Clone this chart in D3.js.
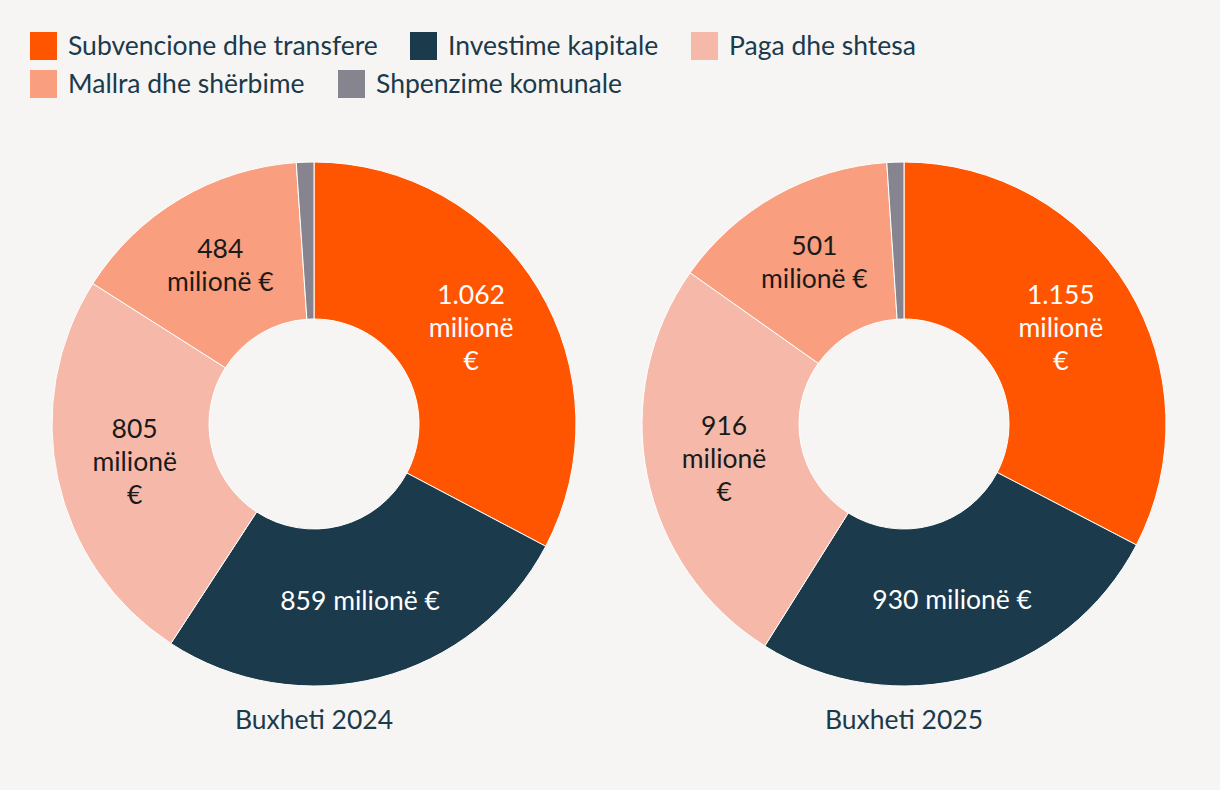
<!DOCTYPE html>
<html>
<head>
<meta charset="utf-8">
<script src="https://cdn.jsdelivr.net/npm/d3@7"></script>
<style>
  html, body { margin: 0; padding: 0; background: #F7F5F3; }
  svg { display: block; font-family: "Lato", "Noto Sans", sans-serif; }
</style>
</head>
<body>
<svg id="chart" width="1220" height="790"></svg>
<script>
const categories = ["Subvencione dhe transfere", "Investime kapitale", "Paga dhe shtesa", "Mallra dhe shërbime", "Shpenzime komunale"];
const colors = ["#FF5500", "#1B3A4B", "#F6B9A9", "#F99E7E", "#86858F"];
const years = ["Buxheti 2024", "Buxheti 2025"];
const values2024 = [1062, 859, 805, 484, 35];
const values2025 = [1155, 930, 916, 501, 37];
const series = [values2024, values2025];
// how many lines each slice label is broken into (number / "milionë" / "€")
const labelLines = [3, 1, 3, 2, 0];
const labelColors = ["#ffffff", "#ffffff", "#1a1a1a", "#1a1a1a", "#1a1a1a"];

const svg = d3.select("#chart");
const textColor = "#1B3A4B";
const fs = 26.5;
const fmt = d3.formatLocale({decimal: ",", thousands: ".", grouping: [3], currency: ["", " €"]}).format(",d");

// Legend
const legendRows = [[0, 1, 2], [3, 4]];
const legendX = [[30, 410, 691], [30, 338]];
const legendY = [32, 70];
legendRows.forEach((row, ri) => {
  row.forEach((ci, k) => {
    const g = svg.append("g").attr("transform", `translate(${legendX[ri][k]},${legendY[ri]})`);
    g.append("rect").attr("width", 27).attr("height", 28).attr("fill", colors[ci]);
    g.append("text").attr("x", 38).attr("y", 23).attr("fill", textColor)
      .attr("font-size", fs).text(categories[ci]);
  });
});

const outerR = 262, innerR = 105;
const centers = [314, 904];
const cy = 424;
const pie = d3.pie().sort(null).value(d => d);
const arc = d3.arc().innerRadius(innerR).outerRadius(outerR);
const lineH = 33;

series.forEach((vals, si) => {
  const g = svg.append("g").attr("transform", `translate(${centers[si]},${cy})`);
  const arcs = pie(vals);
  g.selectAll("path").data(arcs).join("path")
    .attr("d", arc)
    .attr("fill", (d, i) => colors[i])
    .attr("stroke", "#ffffff")
    .attr("stroke-width", 1);

  arcs.forEach((d, i) => {
    const n = labelLines[i];
    if (!n) return;
    const num = fmt(vals[i]);
    let lines;
    if (n === 1) lines = [num + " milionë €"];
    else if (n === 2) lines = [num, "milionë €"];
    else lines = [num, "milionë", "€"];
    const [x, y] = arc.centroid(d);
    const t = g.append("text").attr("text-anchor", "middle")
      .attr("fill", labelColors[i]).attr("font-size", fs);
    lines.forEach((ln, k) => {
      t.append("tspan").attr("x", x)
        .attr("y", y + (k - (lines.length - 1) / 2) * lineH + 8)
        .text(ln);
    });
  });

  svg.append("text").attr("x", centers[si]).attr("y", 729)
    .attr("text-anchor", "middle").attr("fill", textColor)
    .attr("font-size", fs).text(years[si]);
});
</script>
</body>
</html>
